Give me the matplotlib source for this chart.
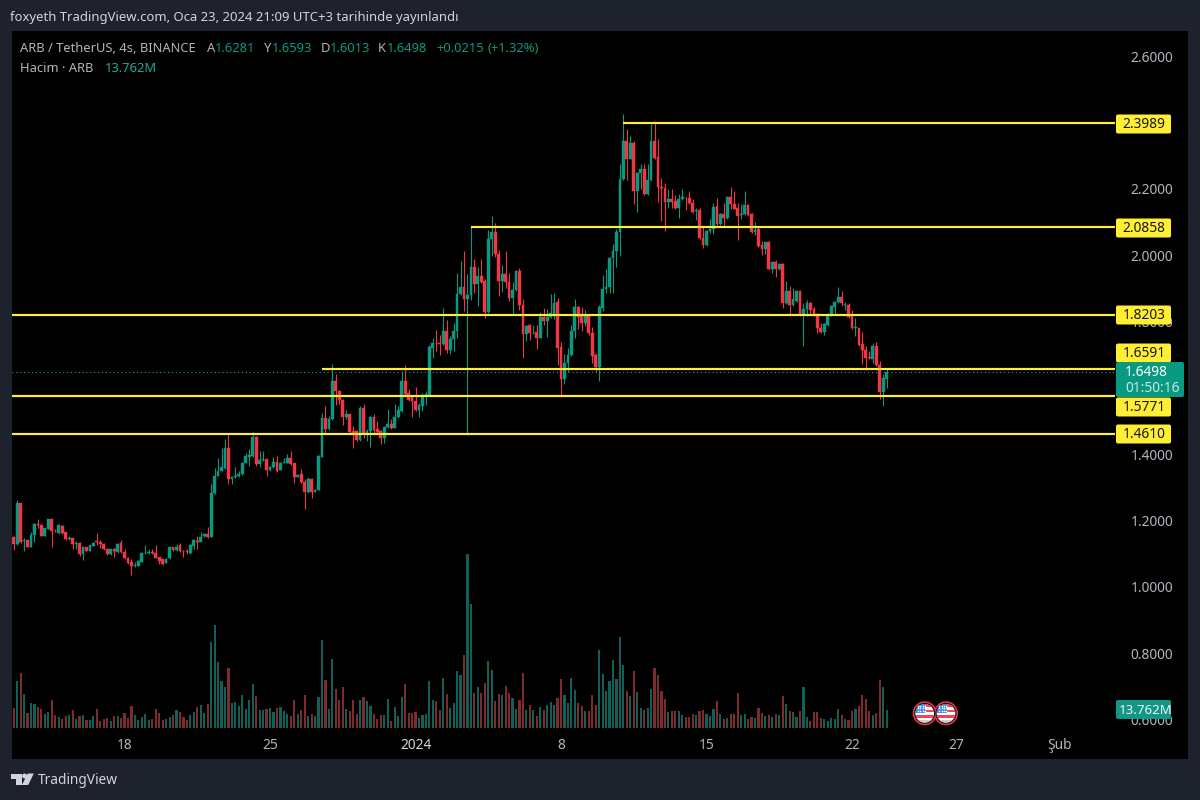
import numpy as np
import matplotlib
matplotlib.use("Agg")
import matplotlib.pyplot as plt
from matplotlib.patches import Circle, FancyBboxPatch, Polygon, Rectangle

# ARB / USDT, 4h candles
opens = [
    1.150, 1.130, 1.255, 1.140, 1.141, 1.122, 1.157, 1.192, 1.188, 1.155,
    1.177, 1.205, 1.170, 1.164, 1.185, 1.165, 1.145, 1.147, 1.130, 1.134,
    1.101, 1.120, 1.110, 1.125, 1.138, 1.137, 1.130, 1.114, 1.099, 1.114,
    1.105, 1.132, 1.107, 1.087, 1.077, 1.065, 1.065, 1.077, 1.102, 1.102,
    1.107, 1.104, 1.090, 1.084, 1.074, 1.087, 1.120, 1.112, 1.127, 1.109,
    1.109, 1.103, 1.123, 1.139, 1.137, 1.153, 1.160, 1.152, 1.283, 1.334,
    1.350, 1.359, 1.421, 1.326, 1.331, 1.334, 1.341, 1.376, 1.394, 1.396,
    1.454, 1.373, 1.384, 1.386, 1.354, 1.361, 1.378, 1.354, 1.376, 1.376,
    1.390, 1.374, 1.332, 1.340, 1.317, 1.288, 1.327, 1.288, 1.293, 1.394,
    1.509, 1.476, 1.506, 1.623, 1.592, 1.565, 1.513, 1.521, 1.470, 1.471,
    1.443, 1.541, 1.466, 1.470, 1.513, 1.478, 1.471, 1.449, 1.484, 1.491,
    1.481, 1.513, 1.530, 1.623, 1.585, 1.575, 1.563, 1.533, 1.547, 1.580,
    1.581, 1.722, 1.737, 1.735, 1.733, 1.774, 1.716, 1.748, 1.772, 1.883,
    1.906, 1.868, 1.882, 1.967, 1.914, 1.939, 1.923, 1.830, 2.049, 2.072,
    2.006, 1.923, 1.944, 1.919, 1.871, 1.895, 1.954, 1.850, 1.763, 1.790,
    1.767, 1.770, 1.752, 1.814, 1.803, 1.816, 1.824, 1.860, 1.724, 1.627,
    1.677, 1.699, 1.772, 1.846, 1.824, 1.796, 1.820, 1.768, 1.699, 1.664,
    1.843, 1.900, 1.904, 1.994, 2.014, 2.072, 2.230, 2.345, 2.291, 2.339,
    2.194, 2.250, 2.260, 2.185, 2.227, 2.345, 2.296, 2.208, 2.204, 2.162,
    2.172, 2.164, 2.143, 2.170, 2.178, 2.175, 2.160, 2.134, 2.137, 2.054,
    2.031, 2.074, 2.079, 2.150, 2.095, 2.125, 2.112, 2.178, 2.157, 2.144,
    2.122, 2.125, 2.152, 2.124, 2.070, 2.080, 2.031, 2.021, 2.041, 1.959,
    1.981, 1.959, 1.975, 1.856, 1.893, 1.852, 1.863, 1.893, 1.820, 1.838,
    1.858, 1.840, 1.824, 1.783, 1.770, 1.790, 1.821, 1.845, 1.860, 1.874,
    1.852, 1.852, 1.820, 1.783, 1.783, 1.733, 1.715, 1.693, 1.688, 1.728,
    1.670, 1.589, 1.6281,
]
closes = [
    1.130, 1.255, 1.135, 1.141, 1.122, 1.157, 1.192, 1.189, 1.155, 1.179,
    1.205, 1.170, 1.169, 1.187, 1.163, 1.144, 1.147, 1.129, 1.132, 1.100,
    1.120, 1.110, 1.126, 1.134, 1.136, 1.129, 1.114, 1.099, 1.114, 1.108,
    1.131, 1.107, 1.087, 1.073, 1.063, 1.067, 1.080, 1.104, 1.104, 1.105,
    1.103, 1.089, 1.079, 1.070, 1.086, 1.121, 1.112, 1.121, 1.109, 1.108,
    1.107, 1.127, 1.141, 1.137, 1.152, 1.160, 1.150, 1.283, 1.336, 1.351,
    1.361, 1.421, 1.326, 1.331, 1.336, 1.341, 1.376, 1.396, 1.398, 1.454,
    1.371, 1.383, 1.386, 1.354, 1.361, 1.378, 1.351, 1.376, 1.378, 1.389,
    1.371, 1.332, 1.339, 1.317, 1.288, 1.327, 1.288, 1.293, 1.396, 1.509,
    1.476, 1.506, 1.623, 1.591, 1.565, 1.513, 1.521, 1.468, 1.462, 1.443,
    1.541, 1.462, 1.470, 1.513, 1.474, 1.468, 1.449, 1.484, 1.491, 1.481,
    1.513, 1.533, 1.623, 1.582, 1.565, 1.562, 1.533, 1.549, 1.580, 1.582,
    1.724, 1.736, 1.735, 1.733, 1.774, 1.716, 1.748, 1.772, 1.883, 1.906,
    1.868, 1.882, 1.967, 1.914, 1.939, 1.919, 1.830, 2.051, 2.072, 2.004,
    1.923, 1.944, 1.919, 1.871, 1.895, 1.954, 1.850, 1.763, 1.788, 1.767,
    1.768, 1.752, 1.814, 1.803, 1.816, 1.826, 1.858, 1.722, 1.627, 1.677,
    1.699, 1.772, 1.846, 1.816, 1.796, 1.818, 1.768, 1.697, 1.664, 1.845,
    1.900, 1.904, 1.994, 2.014, 2.072, 2.230, 2.345, 2.291, 2.339, 2.194,
    2.250, 2.260, 2.185, 2.227, 2.345, 2.293, 2.207, 2.204, 2.162, 2.172,
    2.163, 2.143, 2.170, 2.176, 2.176, 2.160, 2.130, 2.137, 2.052, 2.031,
    2.074, 2.079, 2.148, 2.095, 2.125, 2.112, 2.178, 2.155, 2.142, 2.120,
    2.125, 2.152, 2.122, 2.070, 2.078, 2.029, 2.021, 2.040, 1.959, 1.981,
    1.959, 1.974, 1.856, 1.893, 1.852, 1.868, 1.893, 1.820, 1.838, 1.858,
    1.836, 1.823, 1.781, 1.770, 1.793, 1.821, 1.848, 1.860, 1.874, 1.856,
    1.853, 1.816, 1.783, 1.785, 1.730, 1.715, 1.691, 1.691, 1.728, 1.670,
    1.589, 1.630, 1.6498,
]
highs = [
    1.155, 1.262, 1.255, 1.147, 1.143, 1.165, 1.195, 1.207, 1.192, 1.180,
    1.207, 1.207, 1.175, 1.192, 1.187, 1.167, 1.155, 1.149, 1.140, 1.135,
    1.123, 1.121, 1.128, 1.136, 1.162, 1.141, 1.133, 1.117, 1.116, 1.118,
    1.132, 1.141, 1.116, 1.091, 1.084, 1.076, 1.082, 1.106, 1.126, 1.114,
    1.114, 1.128, 1.092, 1.086, 1.088, 1.123, 1.121, 1.129, 1.133, 1.112,
    1.114, 1.129, 1.145, 1.153, 1.165, 1.163, 1.183, 1.310, 1.358, 1.391,
    1.421, 1.446, 1.461, 1.334, 1.361, 1.351, 1.378, 1.406, 1.418, 1.468,
    1.456, 1.411, 1.411, 1.386, 1.366, 1.394, 1.396, 1.378, 1.391, 1.401,
    1.411, 1.376, 1.341, 1.356, 1.327, 1.332, 1.330, 1.295, 1.398, 1.524,
    1.545, 1.517, 1.672, 1.642, 1.595, 1.567, 1.535, 1.521, 1.486, 1.474,
    1.545, 1.551, 1.476, 1.515, 1.521, 1.500, 1.474, 1.486, 1.537, 1.506,
    1.551, 1.547, 1.652, 1.669, 1.599, 1.577, 1.604, 1.555, 1.585, 1.592,
    1.730, 1.750, 1.776, 1.761, 1.841, 1.805, 1.758, 1.796, 1.949, 1.984,
    2.013, 1.944, 2.089, 1.991, 1.967, 1.991, 1.929, 2.076, 2.120, 2.097,
    2.017, 1.971, 2.014, 1.949, 1.919, 1.957, 1.964, 1.870, 1.790, 1.793,
    1.790, 1.790, 1.830, 1.843, 1.840, 1.883, 1.888, 1.873, 1.738, 1.704,
    1.720, 1.790, 1.868, 1.848, 1.846, 1.836, 1.823, 1.786, 1.705, 1.850,
    1.941, 1.959, 1.997, 2.034, 2.079, 2.276, 2.426, 2.381, 2.361, 2.346,
    2.252, 2.276, 2.276, 2.276, 2.396, 2.406, 2.351, 2.235, 2.220, 2.200,
    2.200, 2.182, 2.185, 2.200, 2.178, 2.195, 2.170, 2.145, 2.145, 2.085,
    2.077, 2.110, 2.160, 2.175, 2.128, 2.160, 2.180, 2.206, 2.195, 2.160,
    2.155, 2.195, 2.155, 2.127, 2.100, 2.090, 2.044, 2.042, 2.043, 1.984,
    1.986, 1.977, 1.979, 1.922, 1.907, 1.903, 1.895, 1.895, 1.856, 1.866,
    1.860, 1.846, 1.826, 1.798, 1.796, 1.826, 1.850, 1.863, 1.906, 1.893,
    1.860, 1.856, 1.836, 1.811, 1.783, 1.771, 1.728, 1.713, 1.735, 1.740,
    1.681, 1.642, 1.6593,
]
lows = [
    1.112, 1.127, 1.133, 1.108, 1.121, 1.121, 1.137, 1.178, 1.153, 1.153,
    1.175, 1.122, 1.165, 1.160, 1.160, 1.142, 1.141, 1.114, 1.116, 1.094,
    1.083, 1.108, 1.108, 1.123, 1.127, 1.118, 1.112, 1.097, 1.097, 1.092,
    1.103, 1.104, 1.086, 1.070, 1.036, 1.062, 1.063, 1.075, 1.100, 1.100,
    1.101, 1.087, 1.071, 1.068, 1.072, 1.085, 1.109, 1.110, 1.107, 1.092,
    1.099, 1.101, 1.115, 1.114, 1.135, 1.151, 1.147, 1.150, 1.281, 1.334,
    1.349, 1.357, 1.312, 1.310, 1.328, 1.331, 1.339, 1.374, 1.366, 1.394,
    1.364, 1.361, 1.381, 1.334, 1.351, 1.359, 1.348, 1.352, 1.374, 1.374,
    1.369, 1.315, 1.331, 1.315, 1.235, 1.285, 1.268, 1.287, 1.292, 1.392,
    1.461, 1.474, 1.503, 1.549, 1.552, 1.489, 1.506, 1.461, 1.419, 1.441,
    1.441, 1.451, 1.441, 1.423, 1.461, 1.466, 1.433, 1.436, 1.481, 1.478,
    1.479, 1.509, 1.529, 1.580, 1.562, 1.514, 1.531, 1.514, 1.531, 1.550,
    1.579, 1.690, 1.712, 1.700, 1.731, 1.705, 1.704, 1.712, 1.752, 1.880,
    1.833, 1.464, 1.866, 1.886, 1.848, 1.917, 1.813, 1.828, 1.999, 1.997,
    1.878, 1.890, 1.903, 1.863, 1.823, 1.893, 1.836, 1.690, 1.743, 1.746,
    1.764, 1.718, 1.750, 1.792, 1.756, 1.813, 1.808, 1.670, 1.573, 1.613,
    1.650, 1.697, 1.753, 1.778, 1.773, 1.788, 1.760, 1.675, 1.649, 1.622,
    1.833, 1.886, 1.886, 1.886, 1.967, 1.999, 2.228, 2.228, 2.291, 2.155,
    2.132, 2.202, 2.183, 2.183, 2.225, 2.291, 2.163, 2.103, 2.074, 2.143,
    2.143, 2.142, 2.113, 2.168, 2.138, 2.155, 2.127, 2.108, 2.049, 2.022,
    2.029, 2.069, 2.064, 2.090, 2.093, 2.088, 2.110, 2.142, 2.140, 2.046,
    2.110, 2.123, 2.120, 2.068, 2.061, 2.027, 2.003, 2.004, 1.957, 1.949,
    1.936, 1.957, 1.842, 1.853, 1.818, 1.848, 1.860, 1.818, 1.726, 1.818,
    1.820, 1.818, 1.766, 1.768, 1.761, 1.788, 1.818, 1.823, 1.856, 1.848,
    1.836, 1.813, 1.780, 1.758, 1.728, 1.674, 1.656, 1.688, 1.676, 1.668,
    1.567, 1.547, 1.6013,
]
# volume in millions
volumes = [
    15.5, 36.5, 42.2, 26.4, 11.7, 18.9, 18.1, 15.8, 14.5, 10.6,
    11.9, 21.2, 9.6, 8.5, 6.7, 9.1, 9.6, 13.7, 6.5, 8.8,
    9.6, 5.7, 6.0, 9.1, 14.2, 5.2, 6.7, 7.3, 5.2, 9.1,
    9.1, 7.8, 11.4, 7.8, 17.1, 10.1, 5.7, 8.3, 10.9, 5.7,
    6.5, 14.2, 11.4, 5.7, 7.0, 8.3, 10.1, 13.7, 12.2, 8.3,
    5.7, 9.8, 12.2, 16.3, 17.6, 11.1, 18.4, 66.6, 79.8, 51.3,
    36.3, 31.9, 46.4, 18.9, 19.7, 17.1, 25.1, 14.2, 21.2, 33.9,
    24.6, 13.7, 13.7, 14.8, 15.3, 12.4, 15.0, 16.1, 13.0, 10.6,
    9.1, 21.2, 10.6, 14.0, 25.4, 9.1, 10.6, 9.1, 23.8, 68.4,
    37.0, 14.5, 53.1, 30.1, 21.2, 31.3, 14.2, 13.0, 21.5, 10.6,
    21.5, 24.1, 20.7, 16.8, 10.6, 7.0, 9.8, 9.6, 22.0, 5.2,
    16.1, 8.8, 24.1, 33.9, 11.4, 11.4, 12.2, 7.8, 9.6, 10.6,
    36.3, 21.5, 21.0, 13.7, 38.3, 26.2, 15.3, 18.9, 44.0, 40.9,
    56.5, 135.2, 95.9, 27.2, 31.3, 27.2, 34.5, 52.1, 44.8, 20.5,
    26.4, 25.1, 32.1, 26.9, 22.8, 14.5, 21.2, 42.7, 14.0, 17.6,
    13.7, 9.1, 15.8, 13.7, 17.6, 19.9, 17.6, 23.3, 37.6, 25.1,
    19.2, 38.9, 29.3, 19.2, 16.8, 12.7, 13.0, 25.4, 17.6, 60.1,
    41.7, 28.2, 36.3, 52.3, 37.8, 70.2, 48.4, 28.2, 24.6, 44.0,
    27.7, 15.3, 13.7, 15.0, 30.1, 46.1, 40.7, 28.5, 22.5, 12.2,
    12.7, 13.0, 13.2, 9.8, 8.0, 8.5, 10.4, 9.6, 13.0, 13.7,
    10.6, 9.1, 14.2, 20.7, 10.9, 6.5, 7.8, 10.6, 10.6, 26.7,
    9.8, 10.9, 6.7, 8.0, 7.8, 15.0, 11.4, 9.1, 9.8, 8.0,
    10.6, 9.8, 24.4, 18.4, 13.0, 11.9, 8.3, 13.2, 31.6, 8.3,
    5.2, 11.9, 12.2, 7.5, 6.7, 4.9, 7.8, 6.5, 14.5, 9.6,
    6.7, 6.0, 12.7, 14.5, 16.8, 25.1, 22.0, 13.0, 9.8, 11.1,
    37.0, 31.6, 13.762,
]

# 2.4 and 1.6 sit fully behind the level labels in the picture
price_ticks = [2.6, 2.2, 2.0, 1.8, 1.4, 1.2, 1.0, 0.8, 0.6]
date_pos = [32, 74, 116, 158, 200, 242, 272, 302]
date_labels = ["18", "25", "2024", "8", "15", "22", "27", "Şub"]
level_prices = [2.3989, 2.0858, 1.8203, 1.6591, 1.5771, 1.4610]
level_starts = [176, 132, -1, 89, -1, -1]
level_text = ["2.3989", "2.0858", "1.8203", "1.6591", "1.5771", "1.4610"]
level_label_y = [124, 228, 315, 353, 407, 434]

BG = "#1e222d"
GREEN = "#089981"
RED = "#f23645"
VGREEN = "#125f58"
VRED = "#7d2c2e"
YELLOW = "#ffee33"
GREY = "#b2b5be"
FONT = "Noto Sans"
AXFS = 9.9

plt.rcParams["font.family"] = [FONT, "DejaVu Sans"]

x = np.arange(len(closes))
o = np.array(opens)
c = np.array(closes)
up = c >= o
fig = plt.figure(figsize=(12, 8), dpi=100, facecolor=BG)


def pane(label):
    # same pixel box for price and volume: 12..1188 x 31..759
    ax = fig.add_axes([12 / 1200, 1 - 759 / 800, 1176 / 1200, 728 / 800], label=label)
    ax.set_xlim(-0.49, 339)
    ax.set_xticks([])
    ax.set_yticks([])
    for s in ax.spines.values():
        s.set_visible(False)
    return ax


ax_v = pane("volume")
ax_v.set_facecolor("black")
ax_v.set_ylim(-24.3, 541.7)
ax_v.bar(x, volumes, width=0.62, color=[VGREEN if u else VRED for u in up], linewidth=0)

ax = pane("price")
ax.patch.set_alpha(0)
ax.set_ylim(0.4819, 2.6773)
cols = [GREEN if u else RED for u in up]
ax.vlines(x, lows, highs, colors=cols, linewidth=0.8, zorder=2)
ax.bar(x, np.abs(c - o), bottom=np.minimum(o, c), width=0.8, color=cols,
       edgecolor=cols, linewidth=0.3, zorder=3)

ax.hlines(1.6498, -0.49, 318, colors="#1aa18a", linewidth=0.8, linestyles=(0, (1, 2.5)), zorder=1)
for p, s in zip(level_prices, level_starts):
    ax.hlines(p, s, 318, colors=YELLOW, linewidth=1.55, zorder=4)
for p in price_ticks:
    ax.annotate(f"{p:.4f}", (322.5, p), xytext=(0, -1.2), textcoords="offset points",
                color=GREY, fontsize=AXFS, va="center", ha="left", zorder=1)
for d, t in zip(date_pos, date_labels):
    bold = t == "2024"
    ax.annotate(t, (d, 0.4819), xytext=(0, 10), textcoords="offset points",
                color="#d1d4dc" if bold else GREY, fontsize=AXFS, ha="center", va="center",
                fontweight="semibold" if bold else "normal")

# overlay in pixel coordinates for header, labels, flags, logo
ov = fig.add_axes([0, 0, 1, 1], label="overlay")
ov.set_xlim(0, 1200)
ov.set_ylim(800, 0)
ov.axis("off")


def label_box(x0, y0, w, h, col):
    ov.add_patch(FancyBboxPatch((x0, y0), w, h, boxstyle="round,pad=0,rounding_size=2",
                                facecolor=col, edgecolor="none", zorder=5))


for t, ly in zip(level_text, level_label_y):
    label_box(1116, ly - 9.5, 55, 19, YELLOW)
    ov.text(1144, ly + 0.8, t, color="#131722", fontsize=AXFS, ha="center", va="center", zorder=6)

label_box(1116, 362, 68, 35, GREEN)
ov.text(1125, 372.5, "1.6498", color="white", fontsize=AXFS, fontweight="semibold", va="center", zorder=6)
ov.text(1125, 388.5, "01:50:16", color="#c8e8e2", fontsize=AXFS, va="center", zorder=6)

label_box(1116, 700, 55, 19, "#129685")
ov.text(1146, 711, "13.762M", color="#f0f3fa", fontsize=9.6,
        ha="center", va="center", zorder=6)

ov.text(10, 18, "foxyeth TradingView.com, Oca 23, 2024 21:09 UTC+3 tarihinde yayınlandı",
        color="#d1d4dc", fontsize=9.45, va="center")

legend_bits = [
    (20, "ARB / TetherUS, 4s, BINANCE", GREY), (207, "A", GREY), (215, "1.6281", GREEN),
    (264, "Y", GREY), (272, "1.6593", GREEN), (321, "D", GREY), (330, "1.6013", GREEN),
    (378, "K", GREY), (387, "1.6498", GREEN), (436, "+0.0215", GREEN), (488, "(+1.32%)", GREEN),
]
for lx, t, col in legend_bits:
    ov.text(lx, 49, t, color=col, fontsize=9.3, va="center")
ov.text(20, 68.5, "Hacim · ARB", color=GREY, fontsize=9.3, va="center")
ov.text(105, 68.5, "13.762M", color="#22ab94", fontsize=9.3, va="center")

# event flags
for cx in (924.7, 946.0):
    cy = 713.3
    ov.add_patch(Circle((cx, cy), 12, facecolor=RED, edgecolor="none", zorder=7))
    ov.add_patch(Circle((cx, cy), 10.5, facecolor="#131722", edgecolor="none", zorder=8))
    disc = Circle((cx, cy), 9.3, facecolor="white", edgecolor="none", zorder=9)
    ov.add_patch(disc)
    parts = [
        Rectangle((cx - 10, cy - 9), 20, 2.6, facecolor="#f4444f", zorder=10),
        Rectangle((cx - 10, cy - 3.6), 20, 2.6, facecolor="#f4444f", zorder=10),
        Rectangle((cx - 10, cy + 1.6), 20, 2.6, facecolor="#f4444f", zorder=10),
        Rectangle((cx - 10, cy + 6.6), 20, 2.6, facecolor="#c9ced8", zorder=10),
        Rectangle((cx - 10, cy - 10), 10.5, 10, facecolor="#2f86f0", zorder=11),
    ]
    for pt in parts:
        pt.set_linewidth(0)
        ov.add_patch(pt)
        pt.set_clip_path(disc)
    for dx in (-7, -4.5, -2, 0):
        for dy in (-7.5, -5, -2.5):
            ov.plot(cx + dx, cy + dy, marker="s", ms=1.1, color="white", mew=0, zorder=12)

# TradingView mark
ov.add_patch(Polygon([(11.3, 773.5), (21.6, 773.5), (21.6, 785), (15.8, 785), (15.8, 778.6), (11.3, 778.6)],
                     closed=True, facecolor="#d1d4dc", edgecolor="none"))
ov.add_patch(Circle((24.6, 776), 2.5, facecolor="#d1d4dc", edgecolor="none"))
ov.add_patch(Polygon([(27.8, 773.5), (33.8, 773.5), (28.2, 785), (21.9, 785)],
                     closed=True, facecolor="#d1d4dc", edgecolor="none"))
ov.text(38, 780.5, "TradingView", color="#d1d4dc", fontsize=9.9, va="center")

fig.savefig("out.png", dpi=100, facecolor=BG)
